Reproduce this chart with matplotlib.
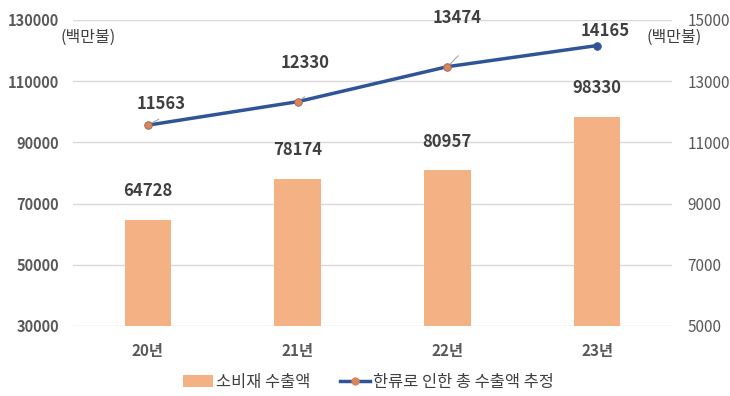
import matplotlib.pyplot as plt
from matplotlib.patches import Patch
from matplotlib.lines import Line2D

plt.rcParams['font.family'] = ['Noto Sans CJK KR', 'DejaVu Sans']

# data
years = ['20년', '21년', '22년', '23년']
consumer_exports = [64728, 78174, 80957, 98330]     # 소비재 수출액 (left axis)
hallyu_exports = [11563, 12330, 13474, 14165]       # 한류로 인한 총 수출액 추정 (right axis)
left_ticks = [30000, 50000, 70000, 90000, 110000, 130000]
right_ticks = [5000, 7000, 9000, 11000, 13000, 15000]

bar_color = '#F4B183'
line_color = '#2F5597'
marker_color = '#D9845A'
label_color = '#404040'
tick_color = '#595959'

fig = plt.figure(figsize=(7.3, 3.96), dpi=100)
ax = fig.add_axes([0.1, 0.1768, 0.8205, 0.7727])
ax2 = ax.twinx()

x = list(range(len(years)))

# bars
ax.bar(x, consumer_exports, width=0.31, color=bar_color, zorder=2)
ax.set_ylim(30000, 130000)
ax.set_xlim(-0.5, 3.5)
ax.set_yticks(left_ticks)
ax.set_yticklabels([str(t) for t in left_ticks], fontsize=10.5, fontweight='bold', color=tick_color)
ax.set_xticks(x)
ax.set_xticklabels(years, fontsize=11, fontweight='bold', color=tick_color)
ax.tick_params(axis='y', length=0, pad=10)
ax.tick_params(axis='x', length=0, pad=12)
ax.yaxis.grid(True, color='#D9D9D9', lw=1, zorder=0)
ax.set_axisbelow(True)
for s in ax.spines.values():
    s.set_visible(False)

for xi, v in zip(x, consumer_exports):
    ax.annotate(str(v), xy=(xi, v), xytext=(0, 14), textcoords='offset points',
                ha='center', va='bottom', fontsize=12, fontweight='bold', color=label_color)

# line
ax2.plot(x, hallyu_exports, color=line_color, lw=2.5, zorder=3)
mcolors = [marker_color, marker_color, marker_color, line_color]
for xi, v, mc in zip(x, hallyu_exports, mcolors):
    ax2.plot(xi, v, 'o', ms=5.5, mfc=mc, mec=mc if mc == line_color else '#8E6A5A', mew=0.6, zorder=4)
ax2.set_ylim(5000, 15000)
ax2.set_yticks(right_ticks)
ax2.set_yticklabels([str(t) for t in right_ticks], fontsize=11, color=tick_color)
ax2.tick_params(axis='y', length=0, pad=11)
for s in ax2.spines.values():
    s.set_visible(False)

# label offsets in pixels (dx, up) and short leader lines
offsets = [(13, 21), (8, 39), (10, 49), (8, 15)]
leaders = [(11, 6), (7, 5), (11, 11), None]
for xi, v, (dx, up), ld in zip(x, hallyu_exports, offsets, leaders):
    ax2.annotate(str(v), xy=(xi, v), xytext=(dx * 0.72, up * 0.72), textcoords='offset points',
                 ha='center', va='center', fontsize=12, fontweight='bold', color=label_color,
                 zorder=5)
    if ld:
        ax2.annotate('', xy=(xi, v), xytext=(ld[0] * 0.72, ld[1] * 0.72),
                     textcoords='offset points',
                     arrowprops=dict(arrowstyle='-', color='#A6A6A6', lw=0.8, shrinkA=0, shrinkB=2))

# unit labels
fig.text(61 / 730, 1 - 37 / 396, '(백만불)', fontsize=11.5, color=label_color, ha='left', va='center')
fig.text(647 / 730, 1 - 37 / 396, '(백만불)', fontsize=11.5, color=label_color, ha='left', va='center')

# legend
handles = [Patch(facecolor=bar_color, edgecolor='none'),
           Line2D([0], [0], color=line_color, lw=2.5, marker='o', ms=5, mfc=marker_color, mec=marker_color)]
fig.legend(handles, ['소비재 수출액', '한류로 인한 총 수출액 추정'], loc='center',
           bbox_to_anchor=(0.505, 1 - 382 / 396), ncol=2, frameon=False,
           fontsize=11.8, labelcolor=label_color, handlelength=1.8, handletextpad=0.2,
           columnspacing=1.8)

fig.savefig('out.png', dpi=100)
